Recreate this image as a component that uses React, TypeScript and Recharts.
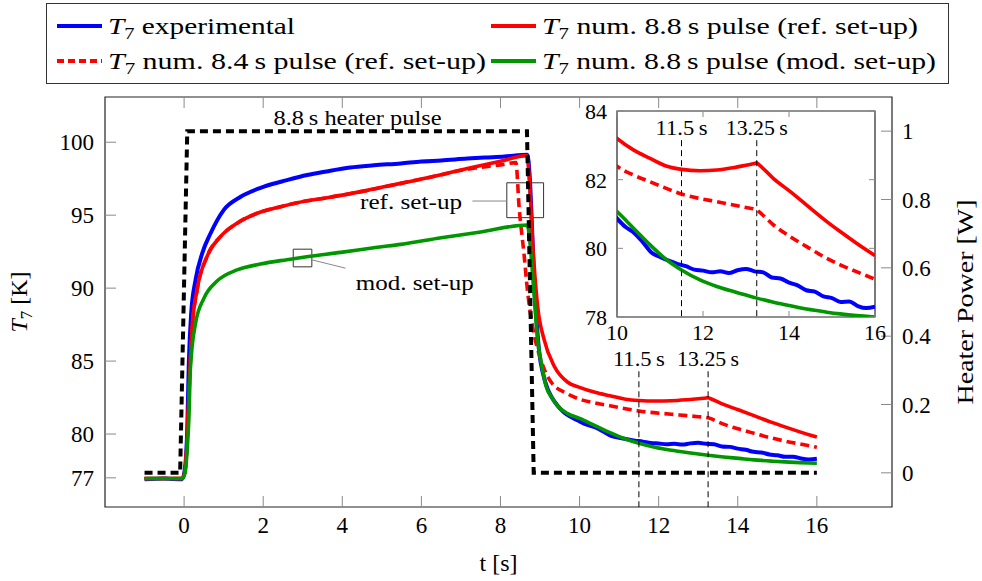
import React from "react";
import {
  ComposedChart,
  Line,
  XAxis,
  YAxis,
  ReferenceLine,
  ReferenceArea,
  ReferenceDot,
} from "recharts";

const FONT = "'Liberation Serif', 'Times New Roman', Times, 'DejaVu Serif', serif";
const GREY = "#8a8a8a";
const BLUE = "#0000ff";
const RED = "#ff0000";
const GREEN = "#009600";

// [t (s), T7 (K)]
const experimental: [number, number][] = [
  [-1, 76.9], [-0.5, 76.95], [-0.05, 76.9], [0.02, 77.6], [0.08, 80.3], [0.12, 84.9],
  [0.18, 88.3], [0.29, 90.57], [0.46, 92.4], [0.67, 93.76], [1.0, 95.35], [1.43, 96.26],
  [2.02, 96.95], [2.6, 97.4], [3.11, 97.75], [3.6, 98.0], [4.2, 98.27], [4.8, 98.42],
  [5.48, 98.55], [6.0, 98.68], [6.5, 98.75], [7.16, 98.88], [7.6, 98.95], [8.1, 99.02],
  [8.68, 99.15], [8.74, 97.6], [8.8, 94.0], [8.85, 90.5], [8.92, 87.5], [8.98, 85.6],
  [9.08, 84.1], [9.19, 83.1], [9.3, 82.5], [9.44, 81.95], [9.6, 81.5], [9.8, 81.15],
  [10.0, 80.87], [10.2, 80.62], [10.4, 80.45], [10.6, 80.18], [10.8, 79.88], [11.0, 79.75],
  [11.2, 79.64], [11.4, 79.55], [11.6, 79.48], [11.8, 79.38], [12.0, 79.35], [12.2, 79.3],
  [12.4, 79.33], [12.6, 79.28], [12.8, 79.36], [13.0, 79.4], [13.2, 79.33], [13.4, 79.3],
  [13.6, 79.15], [13.8, 79.12], [14.0, 79.0], [14.2, 78.92], [14.4, 78.78], [14.6, 78.74],
  [14.8, 78.6], [15.0, 78.55], [15.2, 78.44], [15.4, 78.45], [15.6, 78.32], [15.8, 78.26],
  [16.0, 78.3],
];

const numRef88: [number, number][] = [
  [-1, 76.95], [-0.05, 76.95], [0.02, 77.4], [0.08, 79.8], [0.12, 82.6], [0.2, 87.16],
  [0.33, 89.9], [0.58, 92.17], [0.92, 93.53], [1.34, 94.45], [1.85, 95.13], [2.44, 95.58],
  [3.11, 95.99], [3.62, 96.2], [4.63, 96.7], [5.48, 97.18], [6.3, 97.65], [7.16, 98.2],
  [8.0, 98.7], [8.67, 99.08], [8.74, 97.0], [8.81, 93.3], [8.94, 88.75], [9.1, 86.5],
  [9.36, 84.65], [9.7, 83.55], [10.0, 83.2], [10.39, 82.86], [10.77, 82.62], [11.16, 82.39],
  [11.5, 82.3], [11.93, 82.26], [12.32, 82.28], [12.71, 82.35], [13.0, 82.42], [13.2, 82.47],
  [13.25, 82.49], [13.3, 82.44], [13.64, 82.03], [14.03, 81.65], [14.41, 81.26], [14.88, 80.78],
  [15.19, 80.49], [15.57, 80.15], [16.0, 79.79],
];

const numRef84: [number, number][] = [
  [-1, 76.95], [-0.05, 76.95], [0.02, 77.4], [0.08, 79.8], [0.12, 82.6], [0.2, 87.16],
  [0.33, 89.9], [0.58, 92.17], [0.92, 93.53], [1.34, 94.45], [1.85, 95.13], [2.44, 95.58],
  [3.11, 95.99], [3.62, 96.2], [4.63, 96.7], [5.48, 97.18], [6.3, 97.65], [7.16, 98.15],
  [8.0, 98.45], [8.39, 98.6], [8.47, 95.6], [8.6, 92.2], [8.68, 89.9], [8.81, 87.4],
  [9.02, 85.1], [9.27, 83.6], [9.7, 82.75], [10.0, 82.39], [10.39, 82.13], [10.77, 81.94],
  [11.16, 81.74], [11.5, 81.58], [11.93, 81.45], [12.32, 81.36], [12.71, 81.26], [13.0, 81.19],
  [13.2, 81.14], [13.25, 81.12], [13.3, 81.07], [13.64, 80.68], [14.03, 80.34], [14.41, 80.05],
  [14.88, 79.71], [15.19, 79.52], [15.57, 79.32], [16.0, 79.1],
];

const numMod88: [number, number][] = [
  [-1, 76.95], [-0.05, 76.95], [0.02, 77.3], [0.08, 79.0], [0.12, 81.0], [0.16, 84.5],
  [0.29, 87.6], [0.5, 89.3], [0.84, 90.5], [1.34, 91.25], [1.93, 91.65], [2.6, 91.95],
  [3.1, 92.15], [3.96, 92.45], [4.89, 92.8], [5.48, 93.0], [6.5, 93.45], [7.5, 93.85],
  [8.68, 94.33], [8.75, 93.0], [8.84, 89.9], [8.94, 86.5], [9.05, 84.6], [9.15, 83.3],
  [9.3, 82.5], [9.44, 81.95], [9.7, 81.4], [10.0, 81.07], [10.39, 80.58], [10.77, 80.1],
  [11.16, 79.66], [11.5, 79.37], [11.93, 79.08], [12.32, 78.89], [12.71, 78.74], [13.25, 78.55],
  [13.64, 78.43], [14.03, 78.33], [14.41, 78.23], [14.88, 78.14], [15.19, 78.09], [15.57, 78.04],
  [16.0, 78.0],
];

// [t (s), heater power (W)]
const heater: [number, number][] = [
  [-1, 0], [-0.1, 0], [0.08, 1], [8.67, 1], [8.84, 0], [16, 0],
];

const xTicks = [0, 2, 4, 6, 8, 10, 12, 14, 16];
const tempTicks = [77, 80, 85, 90, 95, 100];
const powerTicks = [0, 0.2, 0.4, 0.6, 0.8, 1];
const insetXTicks = [10, 12, 14, 16];
const insetYTicks = [78, 80, 82, 84];
const markerTimes = [11.5, 13.25];
const markerLabels = ["11.5\u2009s", "13.25\u2009s"];

const legendLabels = [
  " experimental",
  " num. 8.8\u2009s pulse (ref. set-up)",
  " num. 8.4\u2009s pulse (ref. set-up)",
  " num. 8.8\u2009s pulse (mod. set-up)",
];

const pts = (arr: [number, number][]) => arr.map(([t, v]) => ({ t, v }));

const series = [
  { key: "exp", data: pts(experimental), color: BLUE, dash: undefined, width: 4 },
  { key: "r84", data: pts(numRef84), color: RED, dash: "9 5", width: 3.6 },
  { key: "r88", data: pts(numRef88), color: RED, dash: undefined, width: 3.6 },
  { key: "m88", data: pts(numMod88), color: GREEN, dash: undefined, width: 3.6 },
];

// main chart layout
const M_TOP = 97;

function BottomTick({ x, y, payload }: any) {
  return (
    <g>
      <line x1={x} x2={x} y1={y} y2={y - 11} stroke={GREY} />
      <line x1={x} x2={x} y1={M_TOP} y2={M_TOP + 11} stroke={GREY} />
      <text x={x} y={y + 26} textAnchor="middle" fontFamily={FONT} fontSize={23} fill="#000">
        {payload.value}
      </text>
    </g>
  );
}

function LeftTick({ x, y, payload }: any) {
  return (
    <g>
      <line x1={x} x2={x + 11} y1={y} y2={y} stroke={GREY} />
      <text x={x - 11} y={y + 8} textAnchor="end" fontFamily={FONT} fontSize={23} fill="#000">
        {payload.value}
      </text>
    </g>
  );
}

function RightTick({ x, y, payload }: any) {
  return (
    <g>
      <line x1={x} x2={x - 11} y1={y} y2={y} stroke={GREY} />
      <text x={x + 10} y={y + 8} textAnchor="start" fontFamily={FONT} fontSize={23} fill="#000">
        {payload.value}
      </text>
    </g>
  );
}

function LeftTitle({ viewBox }: any) {
  const cy = viewBox ? viewBox.y + viewBox.height / 2 : 302;
  return (
    <text transform={`translate(27, ${cy}) rotate(-90)`} textAnchor="middle" fontFamily={FONT} fontSize={24} fill="#000">
      <tspan fontStyle="italic">T</tspan>
      <tspan fontSize={17} dy={5}>7</tspan>
      <tspan dy={-5}> [K]</tspan>
    </text>
  );
}

function RightTitle({ viewBox }: any) {
  const cy = viewBox ? viewBox.y + viewBox.height / 2 : 302;
  return (
    <text transform={`translate(973, ${cy}) rotate(-90)`} textAnchor="middle" fontFamily={FONT} fontSize={24} fill="#000" textLength={205} lengthAdjust="spacingAndGlyphs">
      Heater Power [W]
    </text>
  );
}

function BottomTitle({ viewBox }: any) {
  const cx = viewBox ? viewBox.x + viewBox.width / 2 : 498;
  return (
    <text x={cx} y={571} textAnchor="middle" fontFamily={FONT} fontSize={24} fill="#000">
      t [s]
    </text>
  );
}

function Note({ viewBox, text, width, size = 21, anchor = "start" }: any) {
  if (!viewBox) return null;
  return (
    <text x={viewBox.x} y={viewBox.y} textAnchor={anchor} fontFamily={FONT} fontSize={size} fill="#000" textLength={width} lengthAdjust="spacingAndGlyphs">
      {text}
    </text>
  );
}

function MarkerLabel({ viewBox, text, width }: any) {
  if (!viewBox) return null;
  return (
    <text x={viewBox.x} y={viewBox.y - 5} textAnchor="middle" fontFamily={FONT} fontSize={21} fill="#000" textLength={width} lengthAdjust="spacingAndGlyphs">
      {text}
    </text>
  );
}

const markerWidths = [52, 62];

// inset layout (its own svg coordinates)
const I_TOP = 11;
const I_RIGHT = 315;

function InsetBottomTick({ x, y, payload }: any) {
  return (
    <g>
      <line x1={x} x2={x} y1={y} y2={y - 6} stroke={GREY} />
      <line x1={x} x2={x} y1={I_TOP} y2={I_TOP + 6} stroke={GREY} />
      <text x={x} y={y + 23} textAnchor="middle" fontFamily={FONT} fontSize={22} fill="#000">
        {payload.value}
      </text>
    </g>
  );
}

function InsetLeftTick({ x, y, payload }: any) {
  return (
    <g>
      <line x1={x} x2={x + 6} y1={y} y2={y} stroke={GREY} />
      <line x1={I_RIGHT} x2={I_RIGHT - 6} y1={y} y2={y} stroke={GREY} />
      <text x={x - 10} y={y + 8} textAnchor="end" fontFamily={FONT} fontSize={22} fill="#000">
        {payload.value}
      </text>
    </g>
  );
}

function LegendBox() {
  const rows = [
    { x: 57, y: 26, s: series[0], label: legendLabels[0], w: 187 },
    { x: 491, y: 26, s: series[2], label: legendLabels[1], w: 376 },
    { x: 57, y: 61, s: series[1], label: legendLabels[2], w: 378 },
    { x: 491, y: 61, s: series[3], label: legendLabels[3], w: 394 },
  ];
  return (
    <svg width={982} height={90} style={{ position: "absolute", left: 0, top: 0 }}>
      <rect x={46.5} y={3.5} width={902} height={80} fill="#fff" stroke="#333" />
      {rows.map((r) => (
        <g key={r.s.key}>
          <line x1={r.x} x2={r.x + 45} y1={r.y} y2={r.y} stroke={r.s.color} strokeWidth={4} strokeDasharray={r.s.dash ? "7 4" : undefined} />
          <text x={r.x + 51} y={r.y + 8} fontFamily={FONT} fontSize={23} fill="#000" textLength={r.w} lengthAdjust="spacingAndGlyphs">
            <tspan fontStyle="italic">T</tspan>
            <tspan fontSize={16} dy={5}>7</tspan>
            <tspan dy={-5}>{r.label}</tspan>
          </text>
        </g>
      ))}
    </svg>
  );
}

export default function App() {
  return (
    <div style={{ position: "absolute", left: 0, top: 0, width: 982, height: 581, background: "#fff" }}>
      <div style={{ position: "absolute", left: 0, top: 0 }}>
        <ComposedChart width={982} height={581} margin={{ top: M_TOP, right: 30, bottom: 24, left: 45 }}>
          <XAxis
            dataKey="t"
            type="number"
            domain={[-2, 17.9]}
            ticks={xTicks}
            allowDataOverflow
            axisLine={false}
            tickLine={false}
            tickSize={0}
            tickMargin={0}
            height={50}
            tick={<BottomTick />}
            label={<BottomTitle />}
          />
          <YAxis
            yAxisId="T"
            type="number"
            domain={[75, 103.1]}
            ticks={tempTicks}
            allowDataOverflow
            axisLine={false}
            tickLine={false}
            tickSize={0}
            tickMargin={0}
            width={60}
            tick={<LeftTick />}
            label={<LeftTitle />}
          />
          <YAxis
            yAxisId="P"
            orientation="right"
            type="number"
            domain={[-0.1, 1.1]}
            ticks={powerTicks}
            allowDataOverflow
            axisLine={false}
            tickLine={false}
            tickSize={0}
            tickMargin={0}
            width={60}
            tick={<RightTick />}
            label={<RightTitle />}
          />
          <ReferenceArea yAxisId="T" x1={-2} x2={17.9} y1={75} y2={103.1} fill="none" stroke="#222" strokeWidth={1.2} />
          {series.map((s) => (
            <Line
              key={s.key}
              yAxisId="T"
              data={s.data}
              dataKey="v"
              type="monotone"
              stroke={s.color}
              strokeWidth={s.width}
              strokeDasharray={s.dash}
              dot={false}
              isAnimationActive={false}
            />
          ))}
          <Line
            yAxisId="P"
            data={pts(heater)}
            dataKey="v"
            type="linear"
            stroke="#000"
            strokeWidth={4}
            strokeDasharray="8 5"
            dot={false}
            isAnimationActive={false}
          />
          {markerTimes.map((m, i) => (
            <ReferenceLine
              key={m}
              yAxisId="T"
              segment={[{ x: m, y: 84.3 }, { x: m, y: 75 }]}
              stroke="#000"
              strokeWidth={1}
              strokeDasharray="6 4"
              label={<MarkerLabel text={markerLabels[i]} width={markerWidths[i]} />}
            />
          ))}
          <ReferenceArea yAxisId="T" x1={8.16} x2={9.09} y1={94.83} y2={97.22} fill="none" stroke="#333" strokeWidth={1} ifOverflow="visible" />
          <ReferenceArea yAxisId="T" x1={2.76} x2={3.23} y1={91.46} y2={92.67} fill="none" stroke="#333" strokeWidth={1} ifOverflow="visible" />
          <ReferenceLine yAxisId="T" segment={[{ x: 7.29, y: 95.97 }, { x: 8.16, y: 95.97 }]} stroke="#888" strokeWidth={1} />
          <ReferenceLine yAxisId="T" segment={[{ x: 3.23, y: 91.94 }, { x: 4.08, y: 91.37 }]} stroke="#888" strokeWidth={1} />
          <ReferenceDot yAxisId="T" x={2.26} y={101.21} r={0} fill="none" stroke="none" label={<Note text={"8.8\u2009s heater pulse"} width={168} />} />
          <ReferenceDot yAxisId="T" x={4.45} y={95.42} r={0} fill="none" stroke="none" label={<Note text="ref.  set-up" width={102} />} />
          <ReferenceDot yAxisId="T" x={4.34} y={89.89} r={0} fill="none" stroke="none" label={<Note text="mod.  set-up" width={118} />} />
        </ComposedChart>
      </div>

      <div style={{ position: "absolute", left: 560, top: 100 }}>
        <ComposedChart width={330} height={250} margin={{ top: I_TOP, right: 15, bottom: 8, left: 17 }}>
          <XAxis
            dataKey="t"
            type="number"
            domain={[10, 16]}
            ticks={insetXTicks}
            allowDataOverflow
            axisLine={false}
            tickLine={false}
            tickSize={0}
            tickMargin={0}
            height={25}
            tick={<InsetBottomTick />}
          />
          <YAxis
            type="number"
            domain={[78, 84]}
            ticks={insetYTicks}
            allowDataOverflow
            axisLine={false}
            tickLine={false}
            tickSize={0}
            tickMargin={0}
            width={40}
            tick={<InsetLeftTick />}
          />
          <ReferenceArea x1={10} x2={16} y1={78} y2={84} fill="#fff" fillOpacity={1} stroke="#222" strokeWidth={1.2} />
          {series.map((s) => (
            <Line
              key={s.key}
              data={s.data}
              dataKey="v"
              type="monotone"
              stroke={s.color}
              strokeWidth={s.width}
              strokeDasharray={s.dash}
              dot={false}
              isAnimationActive={false}
            />
          ))}
          {markerTimes.map((m, i) => (
            <ReferenceLine
              key={m}
              segment={[{ x: m, y: 83.15 }, { x: m, y: 78 }]}
              stroke="#000"
              strokeWidth={1}
              strokeDasharray="6 4"
              label={<MarkerLabel text={markerLabels[i]} width={markerWidths[i]} />}
            />
          ))}
        </ComposedChart>
      </div>

      <LegendBox />
    </div>
  );
}
